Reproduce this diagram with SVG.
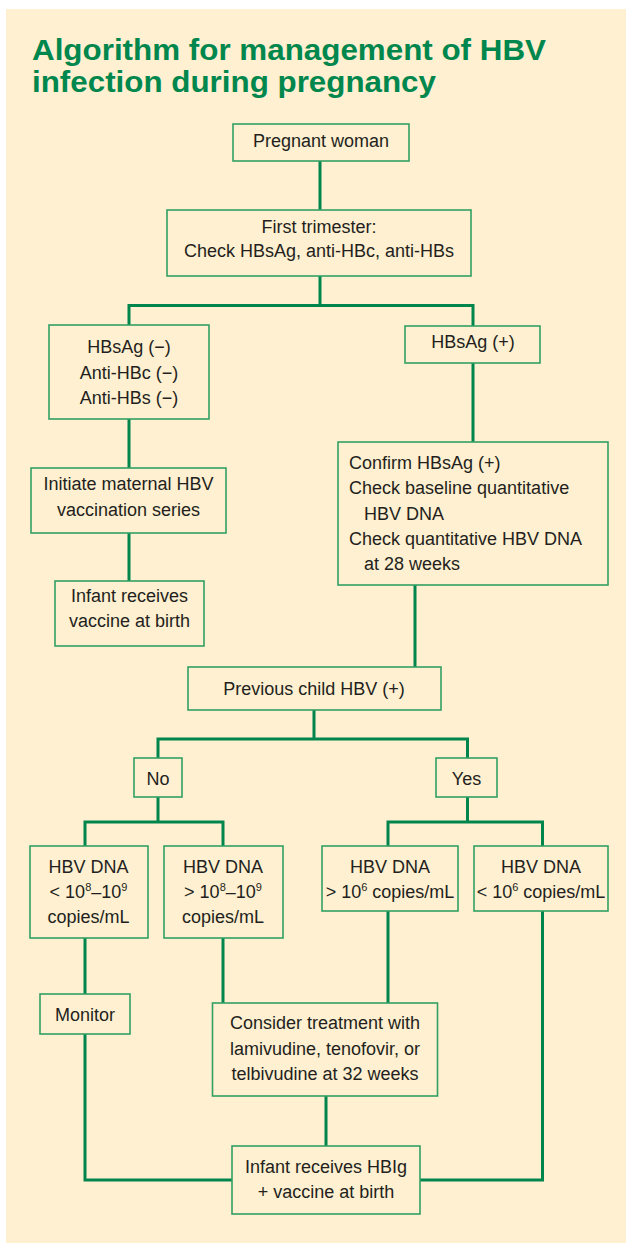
<svg xmlns="http://www.w3.org/2000/svg" width="626" height="1243" viewBox="0 0 626 1243">
<style>
.bg{fill:#FEF0D0}
.box{fill:#FEF0D0;stroke:#33A063;stroke-width:1.6}
.t{font-family:"Liberation Sans",Arial,sans-serif;font-size:18px;fill:#231F20;text-anchor:middle}
.l{font-family:"Liberation Sans",Arial,sans-serif;font-size:18px;fill:#231F20}
.title{font-family:"Liberation Sans",Arial,sans-serif;font-size:30px;font-weight:bold;fill:#00874D}
.c{fill:none;stroke:#00864C;stroke-width:3;stroke-linejoin:miter;stroke-linecap:square}
.sup{font-size:11px}
</style>
<rect x="6" y="9" width="620" height="1234" class="bg"/>
<g id="title">
<text class="title" x="32" y="60" textLength="514" lengthAdjust="spacingAndGlyphs">Algorithm for management of HBV</text>
<text class="title" x="32" y="92" textLength="404" lengthAdjust="spacingAndGlyphs">infection during pregnancy</text>
</g>
<g id="connectors">
<path class="c" d="M320,161 V210"/>
<path class="c" d="M320,276 V305.5 M129,325 V305.5 H473 V326"/>
<path class="c" d="M473,363 V442"/>
<path class="c" d="M129,419 V468"/>
<path class="c" d="M129,533 V581"/>
<path class="c" d="M415,585 V667"/>
<path class="c" d="M314,710 V739 M158,758 V739 H467.5 V758"/>
<path class="c" d="M158,797 V822 M85,846 V822 H223 V846"/>
<path class="c" d="M467.5,797 V822 M388,846 V822 H542.5 V846"/>
<path class="c" d="M85,938 V994"/>
<path class="c" d="M223,938 V1003"/>
<path class="c" d="M388,911 V1003"/>
<path class="c" d="M85,1034 V1180 H232"/>
<path class="c" d="M542.5,911 V1180 H420"/>
<path class="c" d="M326,1096 V1146"/>
</g>
<g id="pregnant">
<rect class="box" x="233" y="124" width="176" height="37"/>
<text class="t" x="321" y="146.5">Pregnant woman</text>
</g>
<g id="first-trimester">
<rect class="box" x="167" y="210" width="304" height="66"/>
<text class="t" x="319" y="233">First trimester:</text>
<text class="t" x="319" y="257">Check HBsAg, anti-HBc, anti-HBs</text>
</g>
<g id="hbsag-neg">
<rect class="box" x="49" y="325" width="160" height="94"/>
<text class="t" x="129" y="353">HBsAg (−)</text>
<text class="t" x="129" y="378.5">Anti-HBc (−)</text>
<text class="t" x="129" y="404">Anti-HBs (−)</text>
</g>
<g id="hbsag-pos">
<rect class="box" x="405" y="326" width="135" height="37"/>
<text class="t" x="473" y="348">HBsAg (+)</text>
</g>
<g id="initiate">
<rect class="box" x="31" y="468" width="195" height="65"/>
<text class="t" x="128.5" y="490">Initiate maternal HBV</text>
<text class="t" x="128.5" y="515.5">vaccination series</text>
</g>
<g id="infant-vaccine">
<rect class="box" x="55" y="581" width="149" height="65"/>
<text class="t" x="129.5" y="602">Infant receives</text>
<text class="t" x="129.5" y="627">vaccine at birth</text>
</g>
<g id="confirm">
<rect class="box" x="338" y="442" width="270" height="143"/>
<text class="l" x="349" y="469">Confirm HBsAg (+)</text>
<text class="l" x="349" y="494">Check baseline quantitative</text>
<text class="l" x="364" y="519.5">HBV DNA</text>
<text class="l" x="349" y="545">Check quantitative HBV DNA</text>
<text class="l" x="364" y="570">at 28 weeks</text>
</g>
<g id="previous-child">
<rect class="box" x="188" y="667" width="253" height="43"/>
<text class="t" x="314" y="695">Previous child HBV (+)</text>
</g>
<g id="no">
<rect class="box" x="134" y="758" width="48" height="39"/>
<text class="t" x="158" y="785">No</text>
</g>
<g id="yes">
<rect class="box" x="436" y="758" width="61" height="39"/>
<text class="t" x="466.5" y="785">Yes</text>
</g>
<g id="dna-low-no">
<rect class="box" x="30" y="846" width="118" height="92"/>
<text class="t" x="88.5" y="873">HBV DNA</text>
<text class="t" x="88.5" y="898">&lt; 10<tspan class="sup" dy="-7">8</tspan><tspan dy="7">–10</tspan><tspan class="sup" dy="-7">9</tspan></text>
<text class="t" x="88.5" y="923">copies/mL</text>
</g>
<g id="dna-high-no">
<rect class="box" x="164" y="846" width="119" height="92"/>
<text class="t" x="223" y="873">HBV DNA</text>
<text class="t" x="223" y="898">&gt; 10<tspan class="sup" dy="-7">8</tspan><tspan dy="7">–10</tspan><tspan class="sup" dy="-7">9</tspan></text>
<text class="t" x="223" y="923">copies/mL</text>
</g>
<g id="dna-high-yes">
<rect class="box" x="322" y="846" width="136" height="65"/>
<text class="t" x="390" y="873">HBV DNA</text>
<text class="t" x="390" y="898">&gt; 10<tspan class="sup" dy="-7">6</tspan><tspan dy="7"> copies/mL</tspan></text>
</g>
<g id="dna-low-yes">
<rect class="box" x="474" y="846" width="134" height="65"/>
<text class="t" x="541" y="873">HBV DNA</text>
<text class="t" x="541" y="898">&lt; 10<tspan class="sup" dy="-7">6</tspan><tspan dy="7"> copies/mL</tspan></text>
</g>
<g id="monitor">
<rect class="box" x="40" y="994" width="90" height="40"/>
<text class="t" x="85" y="1021">Monitor</text>
</g>
<g id="consider">
<rect class="box" x="212.5" y="1003" width="225" height="93"/>
<text class="t" x="325" y="1029">Consider treatment with</text>
<text class="t" x="325" y="1055">lamivudine, tenofovir, or</text>
<text class="t" x="325" y="1080">telbivudine at 32 weeks</text>
</g>
<g id="infant-hbig">
<rect class="box" x="232" y="1146" width="188" height="68"/>
<text class="t" x="326" y="1173">Infant receives HBIg</text>
<text class="t" x="326" y="1198">+ vaccine at birth</text>
</g>
</svg>
